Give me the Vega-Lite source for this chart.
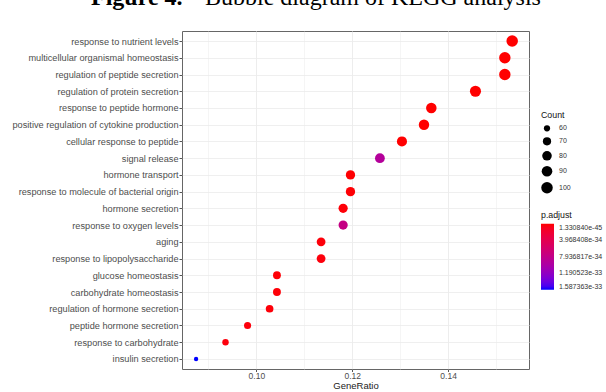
{
  "$schema": "https://vega.github.io/schema/vega-lite/v6.json",
  "width": 347,
  "height": 338,
  "autosize": {"type": "none"},
  "padding": {"left": 182, "top": 31, "right": 77, "bottom": 23},
  "background": "white",
  "title": {
    "text": "Figure 4.",
    "subtitle": "\u200b\u00a0\u00a0\u00a0\u00a0\u00a0\u00a0\u00a0\u00a0\u00a0\u00a0\u00a0\u00a0\u00a0\u00a0\u00a0\u00a0\u00a0\u00a0\u00a0Bubble diagram of KEGG analysis",
    "anchor": "start",
    "frame": "group",
    "dx": -91,
    "offset": 21.5,
    "font": "Liberation Serif",
    "fontSize": 24,
    "fontWeight": "bold",
    "color": "black",
    "subtitleFont": "Liberation Serif",
    "subtitleFontSize": 24,
    "subtitleFontWeight": "normal",
    "subtitleColor": "black",
    "subtitlePadding": -24
  },
  "data": {
    "values": [
      {"Description": "response to nutrient levels", "GeneRatio": 0.15337, "Count": 100, "padj": 1.33084e-45},
      {"Description": "multicellular organismal homeostasis", "GeneRatio": 0.15184, "Count": 99, "padj": 3.2e-42},
      {"Description": "regulation of peptide secretion", "GeneRatio": 0.15184, "Count": 99, "padj": 5.1e-40},
      {"Description": "regulation of protein secretion", "GeneRatio": 0.14571, "Count": 95, "padj": 2.4e-38},
      {"Description": "response to peptide hormone", "GeneRatio": 0.1365, "Count": 89, "padj": 1.1e-37},
      {"Description": "positive regulation of cytokine production", "GeneRatio": 0.13497, "Count": 88, "padj": 4.6e-37},
      {"Description": "cellular response to peptide", "GeneRatio": 0.13037, "Count": 85, "padj": 2.0e-36},
      {"Description": "signal release", "GeneRatio": 0.12577, "Count": 82, "padj": 9.2e-34},
      {"Description": "hormone transport", "GeneRatio": 0.11963, "Count": 78, "padj": 8.5e-36},
      {"Description": "response to molecule of bacterial origin", "GeneRatio": 0.11963, "Count": 78, "padj": 1.3e-35},
      {"Description": "hormone secretion", "GeneRatio": 0.1181, "Count": 77, "padj": 2.1e-35},
      {"Description": "response to oxygen levels", "GeneRatio": 0.1181, "Count": 77, "padj": 7.6e-34},
      {"Description": "aging", "GeneRatio": 0.1135, "Count": 74, "padj": 2.6e-35},
      {"Description": "response to lipopolysaccharide", "GeneRatio": 0.1135, "Count": 74, "padj": 3.0e-35},
      {"Description": "glucose homeostasis", "GeneRatio": 0.10429, "Count": 68, "padj": 1.6e-35},
      {"Description": "carbohydrate homeostasis", "GeneRatio": 0.10429, "Count": 68, "padj": 1.9e-35},
      {"Description": "regulation of hormone secretion", "GeneRatio": 0.10276, "Count": 67, "padj": 2.3e-35},
      {"Description": "peptide hormone secretion", "GeneRatio": 0.09816, "Count": 64, "padj": 2.8e-35},
      {"Description": "response to carbohydrate", "GeneRatio": 0.09356, "Count": 61, "padj": 3.3e-35},
      {"Description": "insulin secretion", "GeneRatio": 0.08742, "Count": 57, "padj": 1.587363e-33}
    ]
  },
  "mark": {"type": "circle", "opacity": 1, "strokeWidth": 0},
  "encoding": {
    "y": {
      "field": "Description",
      "type": "nominal",
      "sort": null,
      "scale": {"type": "point", "padding": 0.6},
      "axis": {
        "title": null,
        "labelFont": "Liberation Sans",
        "labelFontSize": 9.2,
        "labelColor": "#4D4D4D",
        "labelLimit": 300,
        "labelPadding": 1,
        "tickSize": 3,
        "tickColor": "#555555",
        "domain": false,
        "grid": true,
        "gridColor": "#EBEBEB",
        "gridWidth": 0.8
      }
    },
    "x": {
      "field": "GeneRatio",
      "type": "quantitative",
      "scale": {"domain": [0.08448, 0.15688], "nice": false, "zero": false},
      "axis": {
        "title": "GeneRatio",
        "titleFont": "Liberation Sans",
        "titleFontSize": 9.5,
        "titleFontWeight": "normal",
        "titleColor": "#222222",
        "titlePadding": 0,
        "values": [0.09, 0.1, 0.11, 0.12, 0.13, 0.14, 0.15],
        "format": ".2f",
        "labelExpr": "round(datum.value * 100) % 2 == 0 ? datum.label : ''",
        "labelFont": "Liberation Sans",
        "labelFontSize": 8.5,
        "labelColor": "#4D4D4D",
        "labelPadding": 0,
        "tickSize": 2.5,
        "tickColor": "#555555",
        "tickOpacity": {"condition": {"test": "round(datum.value * 100) % 2 == 0", "value": 1}, "value": 0},
        "domain": false,
        "grid": true,
        "gridColor": "#EBEBEB",
        "gridWidth": {"condition": {"test": "round(datum.value * 100) % 2 == 0", "value": 0.9}, "value": 0.5}
      }
    },
    "size": {
      "field": "Count",
      "type": "quantitative",
      "scale": {"domain": [57, 60, 70, 80, 90, 100], "range": [18.9, 38.5, 67.9, 91.6, 113.1, 132.7]},
      "legend": {
        "title": "Count",
        "orient": "none",
        "legendX": 359,
        "legendY": 80,
        "values": [60, 70, 80, 90, 100],
        "titleFont": "Liberation Sans",
        "titleFontSize": 8.8,
        "titleFontWeight": "normal",
        "titleColor": "#111111",
        "titlePadding": 5,
        "labelFont": "Liberation Sans",
        "labelFontSize": 7,
        "labelColor": "#333333",
        "labelOffset": 6,
        "symbolType": "circle",
        "symbolFillColor": "black",
        "symbolStrokeColor": "black",
        "symbolStrokeWidth": 0,
        "symbolOpacity": 1,
        "rowPadding": 5
      }
    },
    "color": {
      "field": "padj",
      "type": "quantitative",
      "scale": {"domain": [1.587363e-33, 1.33084e-45], "range": ["#0000FF", "#FF0000"], "interpolate": "lab", "nice": false, "zero": false},
      "legend": {
        "title": "p.adjust",
        "orient": "none",
        "legendX": 359,
        "legendY": 180,
        "values": [1.33084e-45, 3.968408e-34, 7.936817e-34, 1.190523e-33, 1.587363e-33],
        "format": ".6e",
        "gradientLength": 66,
        "gradientThickness": 13,
        "gradientStrokeWidth": 0,
        "titleFont": "Liberation Sans",
        "titleFontSize": 8.8,
        "titleFontWeight": "normal",
        "titleColor": "#111111",
        "titlePadding": 4,
        "labelFont": "Liberation Sans",
        "labelFontSize": 7,
        "labelColor": "#333333",
        "labelOffset": 5,
        "labelBaseline": "middle",
        "labelOverlap": false
      }
    }
  },
  "config": {
    "view": {"stroke": "#666666", "strokeWidth": 1}
  }
}
